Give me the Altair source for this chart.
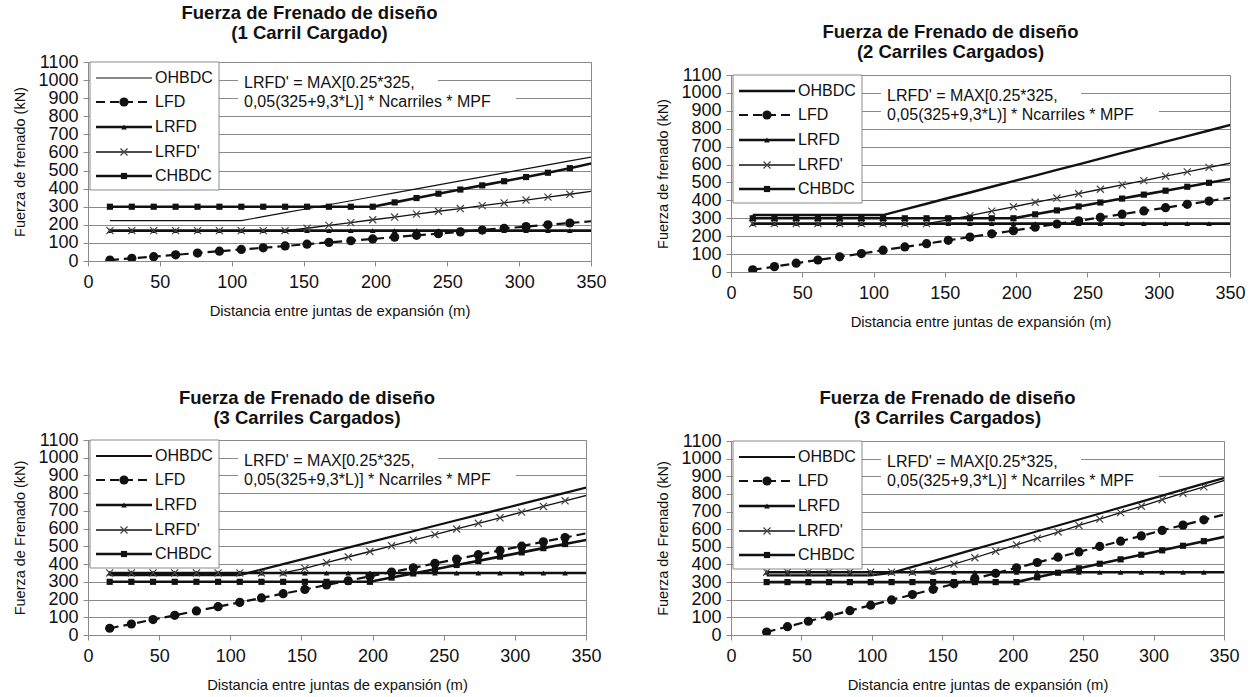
import altair as alt
import pandas as pd

FONT = "Liberation Sans"
INK = "#111111"
GRID = "#8a8a8a"

SERIES = ["OHBDC", "LFD", "LRFD", "LRFD'", "CHBDC"]
X_TICKS = [0, 50, 100, 150, 200, 250, 300, 350]
Y_TICKS = [0, 100, 200, 300, 400, 500, 600, 700, 800, 900, 1000, 1100]

# Span between expansion joints (m), 50 ft steps
L_STEPS = [15.24, 30.48, 45.72, 60.96, 76.2, 91.44, 106.68, 121.92, 137.16, 152.4,
           167.64, 182.88, 198.12, 213.36, 228.6, 243.84, 259.08, 274.32, 289.56,
           304.8, 320.04, 335.28, 350.52]
L_STEPS_B = [25.3, 40.1, 54.9, 69.6, 84.4, 99.2, 114.0, 128.8, 143.5, 158.3, 173.1,
             187.9, 202.7, 217.4, 232.2, 247.0, 261.8, 276.6, 291.3, 306.1, 320.9,
             335.7, 350.5]

# 1 loaded lane (kN)
P1_OHBDC = [223, 223, 223, 223, 223, 223, 223, 245, 267, 289, 311, 333, 355, 377, 399,
            421, 443, 465, 487, 509, 531, 553, 575]
P1_LFD = [5, 15, 24, 34, 44, 54, 64, 73, 83, 93, 103, 112, 122, 132, 142, 151, 161, 171,
          181, 190, 200, 210, 220]
P1_LRFD = [168] * 23
P1_LRFDP = [168, 168, 168, 168, 168, 168, 168, 168, 168, 181, 197, 212, 228, 243, 259,
            275, 290, 306, 321, 337, 353, 369, 385]
P1_CHBDC = [300, 300, 300, 300, 300, 300, 300, 300, 300, 300, 300, 300, 300, 324, 348,
            372, 395, 418, 441, 464, 488, 513, 540]

# 2 loaded lanes (kN)
P2_OHBDC = [318, 318, 318, 318, 318, 318, 318, 350, 381, 413, 444, 476, 507, 538, 570,
            601, 633, 665, 696, 728, 759, 790, 822]
P2_LFD = [12, 30, 49, 67, 85, 103, 122, 140, 158, 177, 195, 213, 231, 250, 268, 286, 305,
          323, 341, 359, 378, 396, 414]
P2_LRFD = [270] * 23
P2_LRFDP = [270, 270, 270, 270, 270, 270, 270, 270, 270, 291, 315, 340, 364, 389, 413,
            437, 462, 486, 510, 535, 559, 584, 608]
P2_CHBDC = [300, 300, 300, 300, 300, 300, 300, 300, 300, 300, 300, 300, 300, 322, 344,
            366, 388, 410, 432, 454, 476, 498, 520]

# 3 loaded lanes, first case (kN)
P3_OHBDC = [338, 338, 338, 338, 338, 338, 338, 369, 400, 431, 462, 493, 524, 555, 585,
            616, 647, 678, 709, 740, 771, 802, 833]
P3_LFD = [38, 62, 87, 111, 136, 160, 184, 209, 233, 257, 282, 306, 331, 355, 379, 404,
          428, 453, 477, 501, 526, 550, 574]
P3_LRFD = [350] * 23
P3_LRFDP = [350, 350, 350, 350, 350, 350, 350, 350, 350, 376, 408, 440, 471, 503, 535,
            566, 598, 630, 661, 693, 725, 757, 788]
P3_CHBDC = [300, 300, 300, 300, 300, 300, 300, 300, 300, 300, 300, 300, 300, 324, 347,
            371, 395, 418, 442, 466, 490, 513, 537]

# 3 loaded lanes, second case (kN)
P4_OHBDC = [338, 338, 338, 338, 338, 338, 352, 386, 419, 453, 487, 520, 554, 588, 621,
            655, 689, 723, 756, 790, 824, 858, 891]
P4_LFD = [17, 47, 78, 108, 138, 169, 199, 229, 259, 290, 320, 350, 381, 411, 441, 471,
          502, 532, 562, 593, 623, 653, 684]
P4_LRFD = [356] * 23
P4_LRFDP = [356, 356, 356, 356, 356, 356, 356, 356, 365, 402, 438, 475, 511, 548, 584,
            621, 657, 694, 730, 767, 804, 840, 877]
P4_CHBDC = [300, 300, 300, 300, 300, 300, 300, 300, 300, 300, 300, 300, 300, 327, 353,
            378, 404, 429, 455, 480, 506, 532, 557]

TITLE_1 = "Fuerza de Frenado de diseño"
X_TITLE = "Distancia entre juntas de expansión (m)"
NOTE = ["LRFD' = MAX[0.25*325,", "0,05(325+9,3*L)] * Ncarriles * MPF"]

XMARK = "M-1,-1L1,1M-1,1L1,-1"
LINE_STYLE = {
    "OHBDC": {},
    "LFD": {"strokeWidth": 2.2, "strokeDash": [9, 5]},
    "LRFD": {"strokeWidth": 2.6},
    "LRFD'": {"strokeWidth": 1.3},
    "CHBDC": {"strokeWidth": 2.6},
}
MARKER = {
    "LFD": dict(shape="circle", size=85, filled=True, color=INK),
    "LRFD": dict(shape="triangle-up", size=32, filled=True, color=INK),
    "LRFD'": dict(shape=XMARK, size=50, filled=False, strokeWidth=1.2, color="#444444"),
    "CHBDC": dict(shape="square", size=38, filled=True, color=INK),
}
LEG_Y = [16, 40, 65, 90, 114]


def long_table(xs, cols):
    rows = []
    for name, vals in zip(SERIES, cols):
        for x, v in zip(xs, vals):
            rows.append({"L": x, "F": v, "serie": name})
    return pd.DataFrame(rows)


def panel(xs, cols, subtitle, ytitle, ohbdc_w, W, H, t_offset):
    df = long_table(xs, cols)
    x_axis = alt.Axis(values=X_TICKS, title=X_TITLE, format="d", grid=False,
                      labelFont=FONT, labelFontSize=18, labelColor=INK, labelFlush=False,
                      labelOverlap=False, labelPadding=7, tickSize=5, tickColor=GRID,
                      domainColor=GRID, titleFont=FONT, titleFontSize=14.8,
                      titleFontWeight="normal", titleColor=INK, titlePadding=12)
    y_axis = alt.Axis(values=Y_TICKS, title=ytitle, format="d", grid=True, gridColor=GRID,
                      gridWidth=1, labelFont=FONT, labelFontSize=18, labelColor=INK,
                      labelFlush=False, labelOverlap=False, labelPadding=5, tickSize=5,
                      tickColor=GRID, domainColor=GRID, titleFont=FONT, titleFontSize=14.5,
                      titleFontWeight="normal", titleColor=INK, titlePadding=10)
    x = alt.X("L:Q", scale=alt.Scale(domain=[0, 350], nice=False, zero=False), axis=x_axis)
    y = alt.Y("F:Q", scale=alt.Scale(domain=[0, 1100], nice=False), axis=y_axis)

    one = alt.Chart(pd.DataFrame({"k": [0]}))
    layers = []
    # white boxes behind the formula note
    layers.append(one.mark_rect(fill="white").encode(
        x=alt.value(150), x2=alt.value(350), y=alt.value(12), y2=alt.value(30)))
    layers.append(one.mark_rect(fill="white").encode(
        x=alt.value(150), x2=alt.value(428), y=alt.value(30), y2=alt.value(49)))

    for name in SERIES:
        st = dict(LINE_STYLE[name])
        if name == "OHBDC":
            st["strokeWidth"] = ohbdc_w
        sub = alt.Chart(df).transform_filter(alt.FieldEqualPredicate(field="serie", equal=name))
        layers.append(sub.mark_line(clip=True, color=INK, **st).encode(x=x, y=y))
        if name in MARKER:
            layers.append(sub.transform_filter(alt.datum.L <= 350)
                          .mark_point(clip=True, opacity=1, **MARKER[name])
                          .encode(x=x, y=y))

    # legend box
    layers.append(one.mark_rect(fill="white", stroke=GRID, strokeWidth=1).encode(
        x=alt.value(2), x2=alt.value(131), y=alt.value(0), y2=alt.value(128)))
    for name, ry in zip(SERIES, LEG_Y):
        st = dict(LINE_STYLE[name])
        if name == "OHBDC":
            st["strokeWidth"] = ohbdc_w
        layers.append(one.mark_rule(color=INK, **st).encode(
            x=alt.value(8), x2=alt.value(64), y=alt.value(ry)))
        if name in MARKER:
            layers.append(one.mark_point(opacity=1, **MARKER[name]).encode(
                x=alt.value(36), y=alt.value(ry)))
        layers.append(one.mark_text(text=name, align="left", baseline="middle", font=FONT,
                                    fontSize=16, color=INK).encode(
            x=alt.value(67), y=alt.value(ry)))

    # formula note
    for line, ry in zip(NOTE, [21, 40]):
        layers.append(one.mark_text(text=line, align="left", baseline="middle", font=FONT,
                                    fontSize=16, color=INK).encode(
            x=alt.value(156), y=alt.value(ry)))

    return alt.layer(*layers).properties(
        width=W, height=H,
        title=alt.TitleParams(text=[TITLE_1, subtitle], font=FONT, fontSize=18.5,
                              fontWeight="bold", color=INK, anchor="middle",
                              frame="bounds", lineHeight=20, offset=t_offset))


def top_gap(h):
    # empty strip above a column
    return alt.Chart(pd.DataFrame({"k": [0]})).mark_rule(strokeOpacity=0).encode(
        x=alt.value(0), x2=alt.value(1), y=alt.value(1)
    ).properties(width=1, height=h, view=alt.ViewBackground(stroke="transparent"))


p1 = panel(L_STEPS, [P1_OHBDC, P1_LFD, P1_LRFD, P1_LRFDP, P1_CHBDC], "(1 Carril Cargado)",
           "Fuerza de frenado  (kN)", 1.2, 503, 199, 11)
p2 = panel(L_STEPS, [P2_OHBDC, P2_LFD, P2_LRFD, P2_LRFDP, P2_CHBDC], "(2 Carriles Cargados)",
           "Fuerza de frenado (kN)", 2.4, 499, 197, 4.5)
p3 = panel(L_STEPS, [P3_OHBDC, P3_LFD, P3_LRFD, P3_LRFDP, P3_CHBDC], "(3 Carriles Cargados)",
           "Fuerza de Frenado (kN)", 2.2, 498, 195, 3.5)
p4 = panel(L_STEPS_B, [P4_OHBDC, P4_LFD, P4_LRFD, P4_LRFDP, P4_CHBDC], "(3 Carriles Cargados)",
           "Fuerza de Frenado (kN)", 2.2, 493, 194, 4.5)

left_col = alt.vconcat(alt.vconcat(top_gap(1), p1, spacing=0), p3, spacing=69)
right_col = alt.vconcat(alt.vconcat(top_gap(20), p2, spacing=0), p4, spacing=58)

chart = alt.hconcat(left_col, right_col, spacing=48).properties(
    padding={"left": 12, "top": 0, "right": 0, "bottom": 0},
    background="white",
).configure_view(stroke=GRID, strokeWidth=1)

chart.save("out.html", embed_options={"renderer": "svg", "actions": False})
